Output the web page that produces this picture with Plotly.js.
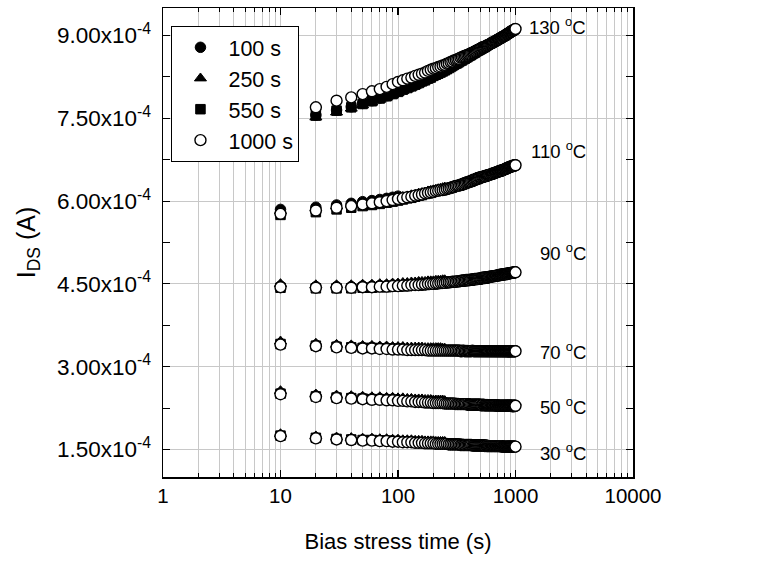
<!DOCTYPE html>
<html>
<head>
<meta charset="utf-8">
<script src="https://cdn.plot.ly/plotly-3.0.1.min.js"></script>
<style>html,body{margin:0;padding:0;background:#fff;}#chart{width:784px;height:563px;}</style>
</head>
<body>
<div id="chart"></div>
<script>
// Bias stress time (s), sampled every 10 s
const tStress = [10,20,30,40,50,60,70,80,90,100,
 110,120,130,140,150,160,170,180,190,200,
 210,220,230,240,250,260,270,280,290,300,
 310,320,330,340,350,360,370,380,390,400,
 410,420,430,440,450,460,470,480,490,500,
 510,520,530,540,550,560,570,580,590,600,
 610,620,630,640,650,660,670,680,690,700,
 710,720,730,740,750,760,770,780,790,800,
 810,820,830,840,850,860,870,880,890,900,
 910,920,930,940,950,960,970,980,990,1000];

// legend names (measurement series)
const seriesNames = ['100 s','250 s','550 s','1000 s'];
const tempLabels = ['130 <sup>o</sup>C','110 <sup>o</sup>C','90 <sup>o</sup>C','70 <sup>o</sup>C','50 <sup>o</sup>C','30 <sup>o</sup>C'];
const tempLabelY = [9.17, 6.92, 5.07, 3.29, 2.29, 1.46]; // x1e-4 A

// I_DS values in units of 1e-4 A
// 130 C (starts at 20 s)
const i130_100 = [7.56,7.65,7.71,7.77,7.82,7.87,7.91,7.95,7.99];
const i130_250 = [7.52,7.61,7.68,7.74,7.79,7.84,7.88,7.92,7.96,8.00,8.03,8.06,8.09,8.12,8.15,8.18,8.20,8.23,8.25,8.28,8.30,8.32,8.34,8.36];
const i130_550 = [7.55,7.64,7.70,7.76,7.81,7.86,7.90,7.94,7.98,
 8.02,8.05,8.08,8.11,8.14,8.17,8.19,8.22,8.24,8.27,
 8.29,8.31,8.33,8.35,8.37,8.39,8.41,8.43,8.45,8.47,
 8.49,8.50,8.52,8.54,8.55,8.57,8.58,8.60,8.61,8.63,
 8.64,8.65,8.67,8.68,8.69,8.71,8.72,8.73,8.74,8.75,
 8.76,8.77,8.78,8.79,8.80];
const i130_1000 = [7.70,7.82,7.88,7.94,7.99,8.03,8.07,8.12,8.16,
 8.19,8.22,8.24,8.27,8.29,8.31,8.33,8.36,8.38,8.40,
 8.41,8.43,8.44,8.46,8.47,8.49,8.50,8.52,8.53,8.55,
 8.56,8.57,8.58,8.60,8.61,8.62,8.63,8.64,8.65,8.66,
 8.67,8.68,8.69,8.70,8.71,8.72,8.73,8.74,8.75,8.76,
 8.77,8.78,8.78,8.79,8.80,8.81,8.82,8.82,8.83,8.84,
 8.85,8.86,8.87,8.87,8.88,8.89,8.90,8.90,8.91,8.92,
 8.93,8.93,8.94,8.95,8.96,8.96,8.97,8.98,8.98,8.99,
 9.00,9.00,9.01,9.02,9.03,9.03,9.04,9.05,9.05,9.06,
 9.07,9.07,9.08,9.08,9.09,9.10,9.10,9.11,9.11,9.12];

// 110 C
const i110_100 = [5.85,5.89,5.93,5.96,5.99,6.01,6.03,6.05,6.07,6.09];
const i110_250 = [5.82,5.87,5.91,5.94,5.96,5.98,6.00,6.02,6.04,6.06,6.08,6.09,6.11,6.12,6.14,6.15,6.16,6.18,6.19,6.20,6.21,6.22,6.23,6.24,6.25];
const i110_550 = [5.75,5.80,5.85,5.88,5.91,5.93,5.95,5.97,5.99,6.01,
 6.03,6.05,6.06,6.08,6.10,6.11,6.13,6.14,6.15,6.17,
 6.18,6.19,6.20,6.20,6.21,6.22,6.23,6.24,6.25,6.26,
 6.27,6.28,6.28,6.29,6.30,6.31,6.32,6.33,6.34,6.35,
 6.35,6.36,6.37,6.38,6.39,6.40,6.40,6.41,6.42,6.43,
 6.43,6.44,6.44,6.45,6.45];
const i110_1000 = [5.77,5.83,5.88,5.91,5.94,5.96,5.98,6.00,6.02,6.04,
 6.05,6.07,6.08,6.10,6.11,6.12,6.14,6.15,6.16,6.17,
 6.18,6.19,6.20,6.20,6.21,6.22,6.23,6.24,6.25,6.26,
 6.27,6.28,6.28,6.29,6.30,6.31,6.32,6.33,6.34,6.35,
 6.35,6.36,6.37,6.38,6.39,6.40,6.40,6.41,6.42,6.43,
 6.43,6.44,6.44,6.45,6.45,6.46,6.46,6.47,6.47,6.48,
 6.48,6.49,6.49,6.50,6.50,6.51,6.51,6.52,6.52,6.53,
 6.53,6.54,6.54,6.55,6.55,6.55,6.56,6.56,6.57,6.57,
 6.58,6.58,6.59,6.59,6.60,6.60,6.61,6.61,6.62,6.62,
 6.62,6.63,6.63,6.63,6.64,6.64,6.64,6.65,6.65,6.65];

// 90 C
const i90_100 = [4.46,4.45,4.45,4.45,4.46,4.46,4.47,4.47,4.48,4.48];
const i90_250 = [4.50,4.48,4.48,4.48,4.49,4.49,4.50,4.50,4.51,4.51,4.52,4.52,4.53,4.53,4.54,4.54,4.54,4.55,4.55,4.55,4.56,4.56,4.56,4.57,4.57];
const i90_550 = [4.43,4.42,4.42,4.42,4.43,4.43,4.44,4.44,4.45,4.45,
 4.46,4.46,4.47,4.47,4.47,4.48,4.48,4.49,4.49,4.49,
 4.50,4.50,4.51,4.51,4.51,4.52,4.52,4.52,4.53,4.53,
 4.53,4.54,4.54,4.54,4.55,4.55,4.55,4.56,4.56,4.56,
 4.56,4.57,4.57,4.57,4.58,4.58,4.58,4.58,4.59,4.59,
 4.59,4.60,4.60,4.60,4.60];
const i90_1000 = [4.44,4.43,4.43,4.43,4.44,4.44,4.45,4.45,4.46,4.46,
 4.47,4.47,4.48,4.48,4.48,4.49,4.49,4.50,4.50,4.50,
 4.51,4.51,4.52,4.52,4.52,4.53,4.53,4.53,4.54,4.54,
 4.54,4.55,4.55,4.55,4.56,4.56,4.56,4.57,4.57,4.57,
 4.57,4.58,4.58,4.58,4.59,4.59,4.59,4.59,4.60,4.60,
 4.60,4.61,4.61,4.61,4.61,4.62,4.62,4.62,4.62,4.63,
 4.63,4.63,4.63,4.64,4.64,4.64,4.64,4.65,4.65,4.65,
 4.65,4.66,4.66,4.66,4.66,4.67,4.67,4.67,4.67,4.67,
 4.68,4.68,4.68,4.68,4.68,4.69,4.69,4.69,4.69,4.69,
 4.70,4.70,4.70,4.70,4.70,4.70,4.71,4.71,4.71,4.71];

// 70 C
const i70_100 = [3.42,3.39,3.37,3.36,3.35,3.35,3.34,3.34,3.33,3.33];
const i70_250 = [3.46,3.42,3.40,3.39,3.38,3.38,3.37,3.37,3.36,3.36,3.36,3.35,3.35,3.35,3.35,3.35,3.34,3.34,3.34,3.34,3.34,3.34,3.34,3.33,3.33];
const i70_550 = [3.41,3.38,3.36,3.35,3.34,3.34,3.33,3.33,3.32,3.32,
 3.32,3.31,3.31,3.31,3.31,3.31,3.31,3.30,3.30,3.30,
 3.30,3.30,3.30,3.30,3.30,3.30,3.30,3.30,3.30,3.30,
 3.30,3.30,3.30,3.29,3.29,3.30,3.29,3.29,3.29,3.29,
 3.29,3.29,3.29,3.29,3.29,3.29,3.29,3.29,3.29,3.29,
 3.29,3.29,3.29,3.29,3.29];
const i70_1000 = [3.40,3.37,3.35,3.34,3.33,3.33,3.32,3.32,3.31,3.31,
 3.31,3.30,3.30,3.30,3.30,3.30,3.30,3.29,3.29,3.29,
 3.29,3.29,3.29,3.29,3.29,3.29,3.29,3.29,3.29,3.29,
 3.29,3.29,3.29,3.28,3.28,3.29,3.28,3.28,3.28,3.28,
 3.28,3.28,3.29,3.28,3.28,3.28,3.28,3.28,3.28,3.28,
 3.28,3.28,3.28,3.28,3.28,3.28,3.28,3.28,3.28,3.28,
 3.28,3.28,3.28,3.28,3.28,3.28,3.28,3.28,3.28,3.28,
 3.28,3.28,3.28,3.28,3.28,3.28,3.28,3.28,3.28,3.28,
 3.28,3.28,3.28,3.28,3.28,3.28,3.28,3.28,3.28,3.28,
 3.28,3.28,3.28,3.28,3.28,3.28,3.28,3.28,3.28,3.28];

// 50 C
const i50_100 = [2.52,2.47,2.45,2.44,2.43,2.42,2.42,2.41,2.41,2.40];
const i50_250 = [2.56,2.50,2.48,2.47,2.46,2.45,2.45,2.44,2.44,2.43,2.43,2.42,2.42,2.41,2.41,2.41,2.40,2.40,2.40,2.39,2.39,2.39,2.39,2.39,2.38];
const i50_550 = [2.51,2.46,2.44,2.43,2.42,2.41,2.41,2.40,2.40,2.39,
 2.39,2.38,2.38,2.37,2.37,2.37,2.36,2.36,2.36,2.35,
 2.35,2.35,2.35,2.35,2.34,2.34,2.34,2.34,2.34,2.34,
 2.33,2.33,2.33,2.33,2.33,2.33,2.33,2.33,2.32,2.32,
 2.32,2.32,2.32,2.32,2.32,2.32,2.32,2.32,2.32,2.32,
 2.31,2.31,2.32,2.31,2.31];
const i50_1000 = [2.50,2.45,2.43,2.42,2.41,2.40,2.40,2.39,2.39,2.38,
 2.38,2.37,2.37,2.36,2.36,2.36,2.35,2.35,2.35,2.34,
 2.34,2.34,2.34,2.34,2.33,2.33,2.33,2.33,2.33,2.33,
 2.32,2.32,2.32,2.32,2.32,2.32,2.32,2.32,2.31,2.31,
 2.31,2.31,2.31,2.31,2.31,2.31,2.31,2.31,2.31,2.31,
 2.30,2.30,2.31,2.30,2.30,2.30,2.30,2.30,2.30,2.30,
 2.30,2.30,2.30,2.30,2.30,2.30,2.30,2.30,2.29,2.30,
 2.29,2.29,2.29,2.29,2.29,2.29,2.29,2.29,2.29,2.29,
 2.29,2.29,2.29,2.29,2.29,2.29,2.29,2.29,2.29,2.29,
 2.29,2.29,2.29,2.28,2.29,2.29,2.28,2.29,2.29,2.29];

// 30 C
const i30_100 = [1.75,1.71,1.69,1.68,1.67,1.67,1.66,1.66,1.65,1.65];
const i30_250 = [1.78,1.74,1.72,1.71,1.70,1.70,1.69,1.69,1.68,1.68,1.67,1.67,1.67,1.66,1.66,1.66,1.65,1.65,1.65,1.65,1.64,1.64,1.64,1.64,1.64];
const i30_550 = [1.75,1.71,1.69,1.68,1.67,1.67,1.66,1.66,1.65,1.65,
 1.64,1.64,1.64,1.63,1.63,1.63,1.62,1.62,1.62,1.62,
 1.61,1.61,1.61,1.61,1.61,1.61,1.60,1.60,1.60,1.60,
 1.60,1.60,1.60,1.59,1.59,1.59,1.59,1.59,1.59,1.59,
 1.59,1.59,1.58,1.58,1.58,1.58,1.58,1.58,1.58,1.58,
 1.58,1.58,1.58,1.58,1.57];
const i30_1000 = [1.74,1.70,1.68,1.67,1.66,1.66,1.65,1.65,1.64,1.64,
 1.63,1.63,1.63,1.62,1.62,1.62,1.61,1.61,1.61,1.61,
 1.60,1.60,1.60,1.60,1.60,1.60,1.59,1.59,1.59,1.59,
 1.59,1.59,1.59,1.58,1.58,1.58,1.58,1.58,1.58,1.58,
 1.58,1.58,1.57,1.57,1.57,1.57,1.57,1.57,1.57,1.57,
 1.57,1.57,1.57,1.57,1.56,1.57,1.56,1.56,1.56,1.56,
 1.56,1.56,1.56,1.56,1.56,1.56,1.56,1.56,1.56,1.56,
 1.56,1.56,1.56,1.56,1.56,1.55,1.56,1.55,1.55,1.55,
 1.55,1.55,1.55,1.55,1.55,1.55,1.55,1.55,1.55,1.55,
 1.55,1.55,1.55,1.55,1.55,1.55,1.55,1.55,1.55,1.55];

const UNIT = 1e-4; // values above are in units of 1e-4 A

// groups: [series index, start index in tStress, values]
const groups = [
  [[0,1,i130_100],[0,0,i110_100],[0,0,i90_100],[0,0,i70_100],[0,0,i50_100],[0,0,i30_100]],
  [[1,1,i130_250],[1,0,i110_250],[1,0,i90_250],[1,0,i70_250],[1,0,i50_250],[1,0,i30_250]],
  [[2,1,i130_550],[2,0,i110_550],[2,0,i90_550],[2,0,i70_550],[2,0,i50_550],[2,0,i30_550]],
  [[3,1,i130_1000],[3,0,i110_1000],[3,0,i90_1000],[3,0,i70_1000],[3,0,i50_1000],[3,0,i30_1000]]
];
const markerStyles = [
  {symbol:'circle', size:10.5, color:'#000', line:{color:'#000', width:1}},
  {symbol:'triangle-up', size:10.5, color:'#000', line:{color:'#000', width:1}},
  {symbol:'square', size:9.5, color:'#000', line:{color:'#000', width:1}},
  {symbol:'circle', size:11, color:'#fff', line:{color:'#000', width:1.4}}
];

const traces = [];
groups.forEach(function(g){
  g.forEach(function(item, k){
    const s = item[0], start = item[1], vals = item[2];
    traces.push({
      type:'scatter', mode:'markers',
      x: tStress.slice(start, start + vals.length),
      y: vals.map(function(v){return v*UNIT;}),
      name: seriesNames[s], legendgroup: seriesNames[s],
      showlegend: k === 0,
      marker: markerStyles[s],
      hoverinfo:'x+y'
    });
  });
});

const yTickVals = [1.5,3.0,4.5,6.0,7.5,9.0];
const yTickText = ['1.50x10<sup>-4</sup>','3.00x10<sup>-4</sup>','4.50x10<sup>-4</sup>','6.00x10<sup>-4</sup>','7.50x10<sup>-4</sup>','9.00x10<sup>-4</sup>'];
const yMinorVals = [2.25,3.75,5.25,6.75,8.25];
const xTickVals = [1,10,100,1000,10000];
const xTickText = ['1','10','100','1000','10000'];

const FONT = 'Arial, "Liberation Sans", sans-serif';
const annotations = tempLabels.map(function(t,i){
  return {xref:'paper', yref:'y', x:0.905, y:tempLabelY[i]*UNIT, xanchor:'right', yanchor:'middle',
          text:t, showarrow:false, font:{family:FONT, size:18.5, color:'#000'}};
});

const layout = {
  width:784, height:563,
  margin:{l:163, r:151, t:8, b:86},
  paper_bgcolor:'#fff', plot_bgcolor:'#fff',
  font:{family:FONT, color:'#000'},
  showlegend:true,
  legend:{x:0.018, y:0.962, xanchor:'left', yanchor:'top', bgcolor:'#fff', bordercolor:'#000', borderwidth:1,
          font:{family:FONT, size:21.5, color:'#000'}, itemwidth:46, tracegroupgap:0},
  xaxis:{type:'log', range:[0,4], showline:true, linecolor:'#000', linewidth:1.5, mirror:'ticks',
         ticks:'inside', ticklen:7, tickwidth:1.2, tickcolor:'#000',
         tickvals:xTickVals, ticktext:xTickText, tickfont:{family:FONT, size:20.5, color:'#000'},
         showgrid:true, gridcolor:'#c8c8c8', gridwidth:1, zeroline:false,
         minor:{ticks:'inside', ticklen:4, tickwidth:1, tickcolor:'#000', dtick:'D1', showgrid:true, gridcolor:'#c8c8c8', gridwidth:1},
         title:{text:'Bias stress time (s)', font:{family:FONT, size:22, color:'#000'}, standoff:27}},
  yaxis:{range:[1.0e-4, 9.5e-4], showline:true, linecolor:'#000', linewidth:1.5, mirror:'ticks',
         ticks:'inside', ticklen:7, tickwidth:1.2, tickcolor:'#000',
         tickvals:yTickVals.map(function(v){return v*UNIT;}), ticktext:yTickText,
         tickfont:{family:FONT, size:22.5, color:'#000'}, ticklabelstandoff:6,
         showgrid:true, gridcolor:'#c8c8c8', gridwidth:1, zeroline:false,
         minor:{ticks:'inside', ticklen:7, tickwidth:1, tickcolor:'#000', tickvals:yMinorVals.map(function(v){return v*UNIT;}), showgrid:false},
         title:{text:'I<sub>DS</sub> (A)', font:{family:FONT, size:25, color:'#000'}, standoff:14}},
  annotations:annotations
};

Plotly.newPlot('chart', traces, layout, {displayModeBar:false, staticPlot:true});
</script>
</body>
</html>
